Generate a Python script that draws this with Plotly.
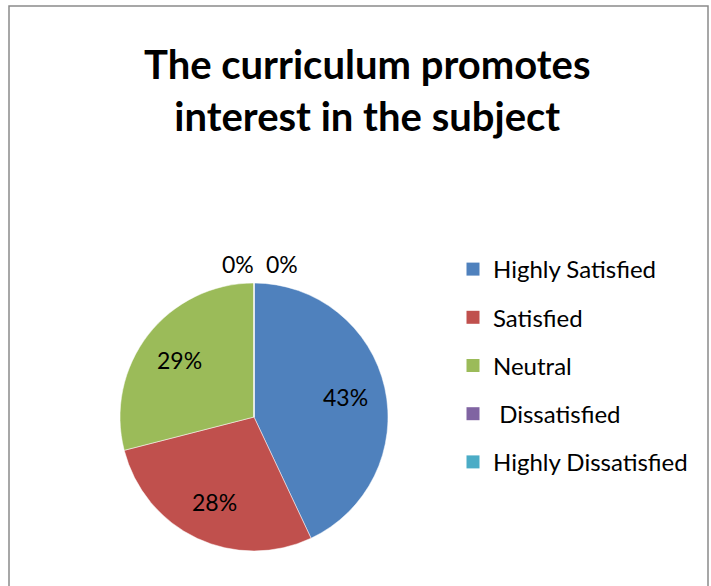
# Pie chart: curriculum promotes interest in the subject
import math
import plotly.graph_objects as go

categories = ["Highly Satisfied", "Satisfied", "Neutral", " Dissatisfied", "Highly Dissatisfied"]
values = [43, 28, 29, 0, 0]
colors = ["#4F81BD", "#C0504D", "#9BBB59", "#8064A2", "#4BACC6"]
title_text = "The curriculum promotes<br>interest in the subject"

FONT = "Lato"
W, H = 711, 586
CX, CY, R = 254, 417, 134  # pie centre / radius in pixels (from top-left)

fig = go.Figure()

fig.add_trace(go.Pie(
    labels=categories,
    values=values,
    marker=dict(colors=colors, line=dict(color="white", width=0.5)),
    sort=False,
    direction="clockwise",
    rotation=0,
    textinfo="none",
    showlegend=False,
    domain=dict(x=[(CX - R) / W, (CX + R) / W], y=[(H - CY - R) / H, (H - CY + R) / H]),
    hoverinfo="label+percent",
))

# percentage labels, placed like Excel's data labels
total = sum(values)
cum = 0
zero_count = 0
for v in values:
    pct = f"{round(100 * v / total)}%"
    if v > 0:
        ang = 2 * math.pi * (cum + v / 2) / total
        px_ = CX + 0.7 * R * math.sin(ang)
        py_ = CY - 0.7 * R * math.cos(ang)
        xanchor = "center"
    else:
        ang = 2 * math.pi * cum / total
        px_ = CX + (R + 19) * math.sin(ang) + (2 if zero_count == 0 else 10)
        py_ = CY - (R + 19) * math.cos(ang)
        xanchor = "right" if zero_count == 0 else "left"
        zero_count += 1
    fig.add_annotation(x=px_ / W, y=1 - py_ / H, xref="paper", yref="paper",
                       text=pct, showarrow=False, xanchor=xanchor, yanchor="middle",
                       font=dict(family=FONT, size=23, color="black"))
    cum += v

# legend entries (spaced like the original)
for i, (name, col) in enumerate(zip(categories, colors)):
    fig.add_trace(go.Scatter(
        x=[None], y=[None], mode="markers", name=name,
        marker=dict(symbol="square", size=13, color=col),
        legendgroup=f"g{i}",
    ))

fig.add_annotation(text=title_text, x=367 / W, y=1 - 38 / H, xref="paper", yref="paper",
                   xanchor="center", yanchor="top", showarrow=False,
                   font=dict(family=FONT, size=40, color="black", weight="bold"))

fig.update_layout(
    width=W, height=H,
    margin=dict(l=0, r=0, t=0, b=0),
    paper_bgcolor="white", plot_bgcolor="white",
    xaxis=dict(visible=False), yaxis=dict(visible=False),
    legend=dict(x=453 / W, y=1 - 247 / H, xanchor="left", yanchor="top",
                font=dict(family=FONT, size=24, color="black"),
                tracegroupgap=14, itemsizing="trace", bgcolor="rgba(0,0,0,0)"),
    shapes=[dict(type="rect", xref="paper", yref="paper", x0=9 / W, x1=708 / W,
                 y0=-0.05, y1=1 - 6 / H, line=dict(color="#8a8a8a", width=1.5))],
)

fig.write_html("out.html", config={"displayModeBar": False},
               post_script="document.body.style.margin='0';")
